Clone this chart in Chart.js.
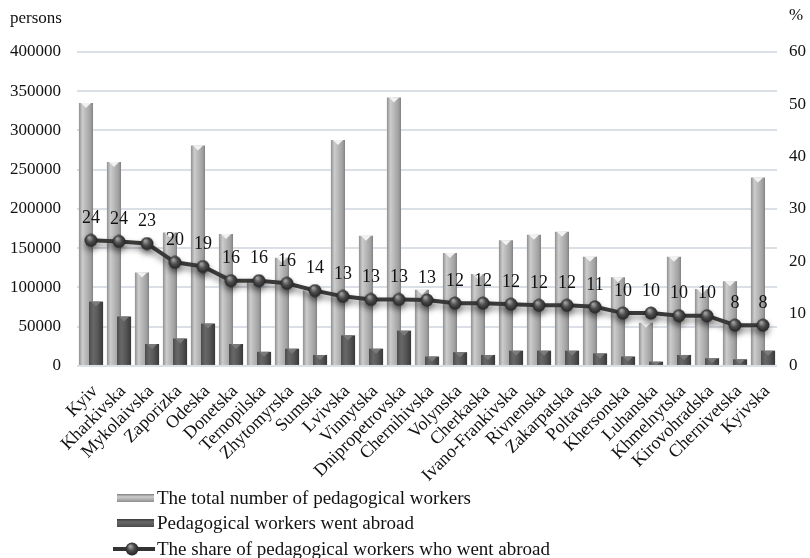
<!DOCTYPE html>
<html>
<head>
<meta charset="utf-8">
<script src="https://cdn.jsdelivr.net/npm/chart.js@4.4.1/dist/chart.umd.min.js"></script>
<style>
  html, body { margin: 0; padding: 0; background: #fff; }
  #wrap { width: 810px; height: 558px; }
</style>
</head>
<body>
<div id="wrap"><canvas id="chart" width="810" height="558"></canvas></div>
<script>
const regions = ['Kyiv', 'Kharkivska', 'Mykolaivska', 'Zaporizka', 'Odeska', 'Donetska', 'Ternopilska',
  'Zhytomyrska', 'Sumska', 'Lvivska', 'Vinnytska', 'Dnipropetrovska', 'Chernihivska', 'Volynska',
  'Cherkaska', 'Ivano-Frankivska', 'Rivnenska', 'Zakarpatska', 'Poltavska', 'Khersonska', 'Luhanska',
  'Khmelnytska', 'Kirovohradska', 'Chernivetska', 'Kyivska'];

const totalWorkers = [335000, 260000, 119000, 170000, 281000, 168000, 110000, 138000, 96000, 288000,
  166000, 342000, 97000, 144000, 117000, 160000, 167000, 171000, 139000, 113000, 55000, 139000,
  98000, 108000, 240000];

const workersAbroad = [82000, 63000, 28000, 35000, 54000, 28000, 18000, 22000, 14000, 39000,
  22000, 45000, 12000, 17500, 14000, 19500, 19500, 19500, 16000, 12000, 5500, 14000,
  9800, 8500, 19500];

const shareAbroad = [24.0, 23.8, 23.4, 19.8, 19.0, 16.3, 16.3, 15.8, 14.4, 13.3, 12.7, 12.7, 12.6,
  12.0, 12.0, 11.8, 11.6, 11.6, 11.3, 10.1, 10.1, 9.6, 9.6, 7.8, 7.8];

const shareLabels = [24, 24, 23, 20, 19, 16, 16, 16, 14, 13, 13, 13, 13, 12, 12, 12, 12, 12, 11,
  10, 10, 10, 10, 8, 8];

const legendLabels = ['The total number of pedagogical workers', 'Pedagogical workers went abroad',
  'The share of pedagogical workers who went abroad'];

const FONT = 'Liberation Serif, Times New Roman, serif';
const CAT_PCT = 0.72, BAR_PCT = 1.4;

const lightStops = [[0, '#8f8f8f'], [0.25, '#cccccc'], [0.55, '#b5b5b5'], [0.85, '#9e9e9e'], [1, '#808080']];
const darkStops = [[0, '#4c4c4c'], [0.3, '#686868'], [0.6, '#595959'], [1, '#383838']];

// horizontal gradient for each bar, worked out from the x scale
function barFill(stops, side) {
  return function (c) {
    const chart = c.chart;
    const xs = chart.scales.x;
    if (c.type !== 'data' || !xs || !chart.chartArea) return stops[1][1];
    const cat = xs.width / regions.length;
    const slot = cat * CAT_PCT / 2;
    const w = slot * BAR_PCT;
    const cx = xs.getPixelForValue(c.dataIndex) + side * slot / 2;
    const g = chart.ctx.createLinearGradient(cx - w / 2, 0, cx + w / 2, 0);
    stops.forEach(s => g.addColorStop(s[0], s[1]));
    return g;
  };
}

function sphere(r) {
  const cv = document.createElement('canvas');
  cv.width = cv.height = r * 2;
  const g = cv.getContext('2d');
  const grad = g.createRadialGradient(r * 0.75, r * 0.6, r * 0.1, r, r, r);
  grad.addColorStop(0, '#a0a0a0');
  grad.addColorStop(0.45, '#4d4d4d');
  grad.addColorStop(1, '#1f1f1f');
  g.fillStyle = grad;
  g.beginPath();
  g.arc(r, r, r - 0.5, 0, Math.PI * 2);
  g.fill();
  return cv;
}
const dot = sphere(7);

function bevels(ctx, meta, color) {
  ctx.save();
  ctx.fillStyle = color;
  meta.data.forEach(bar => {
    const h = Math.min(5, bar.base - bar.y);
    const half = bar.width / 2 - 2;
    ctx.beginPath();
    ctx.moveTo(bar.x - half, bar.y);
    ctx.lineTo(bar.x + half, bar.y);
    ctx.lineTo(bar.x, bar.y + h);
    ctx.closePath();
    ctx.fill();
  });
  ctx.restore();
}

const decorations = {
  id: 'decorations',
  // the light bars sit on the left but behind the dark ones, so draw them first
  beforeDatasetsDraw(chart) {
    const meta = chart.getDatasetMeta(0);
    meta.controller.draw();
    bevels(chart.ctx, meta, '#f2f2f2');
  },
  beforeDatasetDraw(chart, args) {
    if (args.index === 0) return false;
    if (args.index === 2) {
      const ctx = chart.ctx;
      ctx.save();
      ctx.shadowColor = 'rgba(0,0,0,0.45)';
      ctx.shadowBlur = 6;
      ctx.shadowOffsetY = 4;
    }
  },
  afterDatasetDraw(chart, args) {
    if (args.index === 2) {
      chart.ctx.restore();
    } else if (args.index === 1) {
      bevels(chart.ctx, args.meta, '#7a7a7a');
    }
  },
  afterDatasetsDraw(chart) {
    const ctx = chart.ctx;
    ctx.save();
    ctx.font = '18px ' + FONT;
    ctx.fillStyle = '#111';
    ctx.textAlign = 'center';
    ctx.textBaseline = 'middle';
    chart.getDatasetMeta(2).data.forEach((pt, i) => {
      ctx.fillText(String(shareLabels[i]), pt.x, pt.y - 22);
    });
    ctx.restore();
  },
  afterDraw(chart) {
    const ctx = chart.ctx;
    ctx.save();
    ctx.font = '17px ' + FONT;
    ctx.fillStyle = '#111';
    ctx.textBaseline = 'middle';
    ctx.textAlign = 'left';
    ctx.fillText('persons', 10, 19);
    ctx.fillText('%', 789, 16);

    // legend
    ctx.font = '19px ' + FONT;
    const rows = [498, 523, 549];
    [lightStops, darkStops].forEach((stops, i) => {
      const y = rows[i];
      const g = ctx.createLinearGradient(0, y - 4, 0, y + 4);
      g.addColorStop(0, stops[stops.length - 1][1]);
      g.addColorStop(0.35, stops[1][1]);
      g.addColorStop(1, stops[0][1]);
      ctx.fillStyle = g;
      ctx.fillRect(117, y - 4, 37, 8);
    });
    ctx.strokeStyle = '#333';
    ctx.lineWidth = 4;
    ctx.beginPath();
    ctx.moveTo(113, rows[2]);
    ctx.lineTo(155, rows[2]);
    ctx.stroke();
    ctx.drawImage(dot, 132 - 7, rows[2] - 7);
    ctx.fillStyle = '#111';
    legendLabels.forEach((t, i) => ctx.fillText(t, 157, rows[i] + 1));
    ctx.restore();
  }
};

new Chart(document.getElementById('chart'), {
  type: 'bar',
  data: {
    labels: regions,
    datasets: [
      {
        label: legendLabels[0],
        data: totalWorkers,
        backgroundColor: barFill(lightStops, -1),
        yAxisID: 'y',
        order: 1,
        barPercentage: BAR_PCT,
        categoryPercentage: CAT_PCT
      },
      {
        label: legendLabels[1],
        data: workersAbroad,
        backgroundColor: barFill(darkStops, 1),
        yAxisID: 'y',
        order: 2,
        barPercentage: BAR_PCT,
        categoryPercentage: CAT_PCT
      },
      {
        type: 'line',
        label: legendLabels[2],
        data: shareAbroad,
        yAxisID: 'y1',
        order: 0,
        borderColor: '#3a3a3a',
        borderWidth: 4,
        pointStyle: dot,
        pointRadius: 7,
        tension: 0
      }
    ]
  },
  options: {
    responsive: false,
    animation: false,
    layout: { padding: { top: 52, left: -6, right: -8, bottom: 65 } },
    plugins: {
      legend: { display: false },
      tooltip: { enabled: false }
    },
    scales: {
      x: {
        grid: { display: false },
        border: { display: false },
        ticks: {
          autoSkip: false,
          minRotation: 45,
          maxRotation: 45,
          padding: 7,
          labelOffset: 4,
          color: '#111',
          font: { family: FONT, size: 18 }
        }
      },
      y: {
        position: 'left',
        min: 0,
        max: 400000,
        border: { display: false },
        grid: { color: '#dbe0e7', lineWidth: 2, drawTicks: false },
        ticks: {
          stepSize: 50000,
          padding: 16,
          color: '#111',
          font: { family: FONT, size: 17 },
          callback: v => String(v)
        }
      },
      y1: {
        position: 'right',
        min: 0,
        max: 60,
        border: { display: false },
        grid: { display: false, drawTicks: false },
        ticks: {
          stepSize: 10,
          padding: 12,
          color: '#111',
          font: { family: FONT, size: 17 }
        }
      }
    }
  },
  plugins: [decorations]
});
</script>
</body>
</html>
